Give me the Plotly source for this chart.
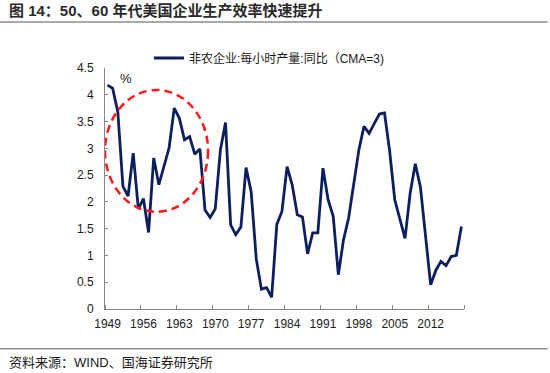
import plotly.graph_objects as go

# ---------------- data ----------------
years = list(range(1949, 2019))
productivity_yoy = [
    4.18, 4.12, 3.68, 2.29, 2.11, 2.91, 1.87, 2.06, 1.43, 2.82,
    2.32, 2.66, 3.01, 3.75, 3.56, 3.16, 3.22, 2.89, 2.99, 1.85,
    1.71, 1.87, 2.97, 3.48, 1.57, 1.39, 1.53, 2.64, 2.19, 0.93,
    0.37, 0.40, 0.22, 1.58, 1.82, 2.66, 2.32, 1.76, 1.72, 1.03,
    1.42, 1.42, 2.63, 2.04, 1.73, 0.64, 1.29, 1.70, 2.35, 2.97,
    3.41, 3.28, 3.46, 3.64, 3.66, 2.95, 2.04, 1.70, 1.32, 2.16,
    2.71, 2.28, 1.35, 0.45, 0.72, 0.89, 0.81, 0.98, 1.00, 1.54,
]
x_tick_years = [1949, 1956, 1963, 1970, 1977, 1984, 1991, 1998, 2005, 2012]
y_ticks = [0, 0.5, 1, 1.5, 2, 2.5, 3, 3.5, 4, 4.5]
series_name = "非农企业:每小时产量:同比（CMA=3)"
title_text = "图 14：50、60 年代美国企业生产效率快速提升"
source_text = "资料来源：WIND、国海证券研究所"
unit_text = "%"

# highlight ellipse (data coordinates)
ellipse_x = [1948.5, 1968.6]
ellipse_y = [1.815, 4.09]

# ---------------- layout geometry ----------------
W, H = 550, 373
PLOT_L, PLOT_R, PLOT_T, PLOT_B = 105, 464.3, 68, 309.3   # window pixels
ML = PLOT_L
MR = W - PLOT_R
MT = PLOT_T
MB = H - PLOT_B
PW = W - ML - MR
PH = H - MT - MB


def px_x(px):
    return (px - PLOT_L) / PW


def px_y(py):
    return (PLOT_B - py) / PH


FONT = "Liberation Sans, Arial, Noto Sans CJK SC, sans-serif"
LINE_COLOR = "#0c1f5f"
AXIS_COLOR = "#868686"
TEXT_COLOR = "#1a1a1a"

fig = go.Figure()
fig.add_trace(go.Scatter(
    x=years, y=productivity_yoy, mode="lines", name=series_name,
    line=dict(color=LINE_COLOR, width=2.8),
))

minor_ticks = [years[0] - 0.5 + 7 * k for k in range(11)]

fig.update_layout(
    width=W, height=H,
    margin=dict(l=ML, r=MR, t=MT, b=MB, pad=0),
    paper_bgcolor="white", plot_bgcolor="white",
    font=dict(family=FONT, size=12, color=TEXT_COLOR),
    showlegend=True,
    legend=dict(
        orientation="h", x=px_x(149), y=px_y(58), xanchor="left", yanchor="middle",
        font=dict(size=12, color=TEXT_COLOR), bgcolor="rgba(0,0,0,0)",
        itemwidth=30,
    ),
    xaxis=dict(
        range=[years[0] - 0.5, years[-1] + 0.5],
        tickmode="array", tickvals=x_tick_years,
        ticktext=[str(v) for v in x_tick_years],
        ticks="", showgrid=False, zeroline=False,
        showline=True, linecolor=AXIS_COLOR, linewidth=1,
        tickfont=dict(size=12, color=TEXT_COLOR),
        ticklabelstandoff=4,
        minor=dict(tickmode="array", tickvals=minor_ticks, ticks="inside",
                   ticklen=4, tickcolor=AXIS_COLOR, tickwidth=1, showgrid=False),
    ),
    yaxis=dict(
        range=[0, 4.5], tickmode="array", tickvals=y_ticks,
        ticktext=[f"{v:g}" for v in y_ticks],
        ticks="inside", ticklen=3, tickcolor=AXIS_COLOR,
        showgrid=False, zeroline=False,
        showline=True, linecolor=AXIS_COLOR, linewidth=1,
        tickfont=dict(size=12, color=TEXT_COLOR),
        ticklabelstandoff=8,
    ),
)

# red dashed ellipse
fig.add_shape(type="circle", xref="x", yref="y",
              x0=ellipse_x[0], x1=ellipse_x[1], y0=ellipse_y[0], y1=ellipse_y[1],
              line=dict(color="#ff1a1a", width=2.5, dash="8px,5px"))

# separator lines (title and footer)
for ly in (22, 349):
    fig.add_shape(type="line", xref="paper", yref="paper",
                  x0=px_x(0), x1=px_x(548), y0=px_y(ly), y1=px_y(ly),
                  line=dict(color="#8c8c8c", width=1.5))

# title
fig.add_annotation(text=f"<b>{title_text}</b>", xref="paper", yref="paper",
                   x=px_x(7), y=px_y(10.5), xanchor="left", yanchor="middle",
                   showarrow=False,
                   font=dict(size=15, color="#2a2a2a",
                             family="Liberation Sans, Arial, Noto Sans CJK SC"))
# footer
fig.add_annotation(text=source_text, xref="paper", yref="paper",
                   x=px_x(7), y=px_y(363), xanchor="left", yanchor="middle",
                   showarrow=False, font=dict(size=13, color=TEXT_COLOR))
# unit
fig.add_annotation(text=unit_text, xref="x", yref="y",
                   x=1952.5, y=4.31, showarrow=False,
                   font=dict(size=13, color=TEXT_COLOR))

# remove the browser's default 8px body margin so the figure fills the window
fig.write_html("out.html", config={"displayModeBar": False},
               post_script="document.body.style.margin='0px';")
